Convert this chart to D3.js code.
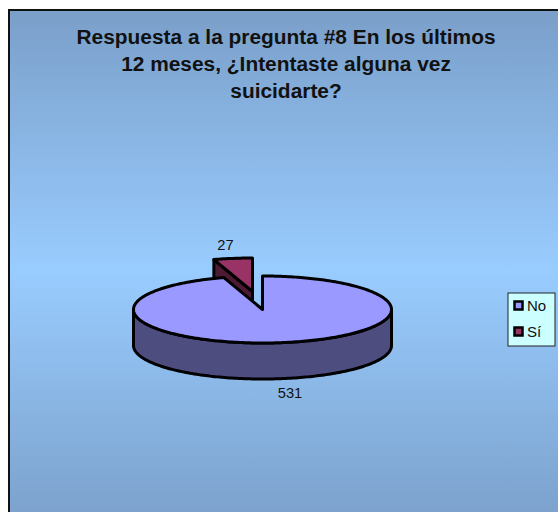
<!DOCTYPE html>
<html>
<head>
<meta charset="utf-8">
<script src="https://cdn.jsdelivr.net/npm/d3@7"></script>
<style>
html,body{margin:0;padding:0;background:#fff}
svg{display:block}
text{font-family:"Liberation Sans",Arial,sans-serif;fill:#111}
</style>
</head>
<body>
<svg id="chart" width="558" height="512"></svg>
<script>
const categories = ["No", "Sí"];
const seriesValues = [531, 27];
const titleLines = ["Respuesta a la pregunta #8 En los últimos", "12 meses, ¿Intentaste alguna vez", "suicidarte?"];
const topColors = ["#9999ff", "#993366"];
const wallColors = ["#4d4d80", "#4d1a33"];

const svg = d3.select("#chart");
const defs = svg.append("defs");
const grad = defs.append("linearGradient").attr("id", "panelFill")
  .attr("x1", 0).attr("x2", 0).attr("y1", 0).attr("y2", 1);
grad.append("stop").attr("offset", "0%").attr("stop-color", "#7a9fc9");
grad.append("stop").attr("offset", "50%").attr("stop-color", "#99ccff");
grad.append("stop").attr("offset", "100%").attr("stop-color", "#7a9fc9");

// Chart panel runs off the right and bottom of the page
svg.append("rect").attr("x", 9).attr("y", 10).attr("width", 560).attr("height", 520)
  .attr("fill", "url(#panelFill)").attr("stroke", "#111").attr("stroke-width", 2);

svg.append("g").selectAll("text").data(titleLines).join("text")
  .attr("x", 286).attr("y", (d, i) => 44 + i * 27)
  .attr("text-anchor", "middle").attr("font-weight", "bold").attr("font-size", 20.9)
  .text(d => d);

// Tilted pie: unit-circle coordinates are projected onto an ellipse
const cx = 262.5, cy = 309.5, rx = 129, ry = 33.5, depth = 36;
const x = d3.scaleLinear().domain([-1, 1]).range([cx - rx, cx + rx]);
const y = d3.scaleLinear().domain([-1, 1]).range([cy - ry, cy + ry]);
const arcs = d3.pie().sort(null)(seriesValues);

const pt = (a, dx, dy) => [x(Math.sin(a)) + dx, y(-Math.cos(a)) + dy];
const sweep = (from, to, dx, dy) => {
  const n = Math.max(2, Math.ceil(Math.abs(to - from) / 0.02));
  return d3.range(n + 1).map(i => pt(from + (to - from) * i / n, dx, dy));
};
const line = d3.line();
const closed = pts => line(pts) + "Z";

const explode = [[0, 0], [-10, -18]];
const pieGroup = svg.append("g").attr("stroke", "#000").attr("stroke-width", 3).attr("stroke-linejoin", "round");

// The exploded slice sits behind, so it is painted first
[1, 0].forEach(i => {
  const { startAngle: a0, endAngle: a1 } = arcs[i];
  const [dx, dy] = explode[i];
  const g = pieGroup.append("g");
  const apex = [cx + dx, cy + dy];

  if (i === 1) {
    // Cut face seen on the left of the small slice
    const p = pt(a0, dx, dy);
    g.append("path").attr("fill", wallColors[i])
      .attr("d", closed([apex, p, [p[0], p[1] + depth], [apex[0], apex[1] + depth]]));
  } else {
    // Outer rim: only the front half of the circle is visible
    const lo = Math.max(a0, Math.PI / 2), hi = Math.min(a1, 3 * Math.PI / 2);
    const rim = sweep(lo, hi, dx, dy);
    const rimBack = sweep(hi, lo, dx, dy + depth);
    g.append("path").attr("fill", wallColors[i]).attr("d", closed(rim.concat(rimBack)));
  }
  g.append("path").attr("fill", topColors[i])
    .attr("d", closed([apex].concat(sweep(a0, a1, dx, dy))));
});

svg.append("text").attr("x", 225.5).attr("y", 250).attr("text-anchor", "middle")
  .attr("font-size", 14.7).text(seriesValues[1]);
svg.append("text").attr("x", 290).attr("y", 398).attr("text-anchor", "middle")
  .attr("font-size", 14.7).text(seriesValues[0]);

// Legend
const legend = svg.append("g");
legend.append("rect").attr("x", 508).attr("y", 293).attr("width", 47).attr("height", 53)
  .attr("fill", "#ccffff").attr("stroke", "#222").attr("stroke-width", 1);
const rowY = d3.scalePoint().domain(categories).range([306, 332]);
categories.forEach((c, i) => {
  legend.append("rect").attr("x", 514.5).attr("y", rowY(c) - 4.5).attr("width", 8).attr("height", 8)
    .attr("fill", topColors[i]).attr("stroke", "#000").attr("stroke-width", 2.5);
  legend.append("text").attr("x", 527).attr("y", rowY(c) + 4.5).attr("font-size", 15).text(c);
});
</script>
</body>
</html>
